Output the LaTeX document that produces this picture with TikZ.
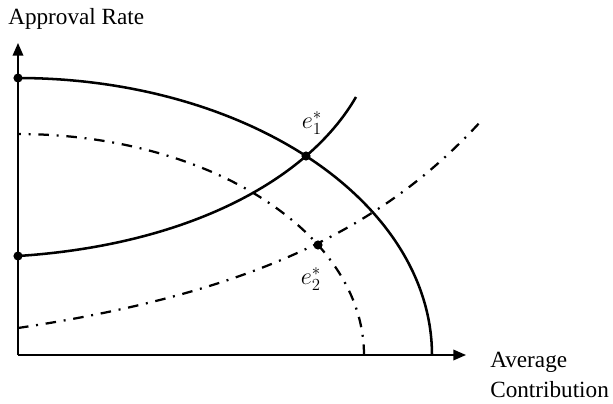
\documentclass[tikz,border=0pt]{standalone}
\usepackage{fontspec}
\setmainfont{Liberation Serif}
\usepackage{tikz}
\usetikzlibrary{arrows.meta,positioning}

\begin{document}
\begin{tikzpicture}[
  x=0.025cm, y=0.025cm,
  every node/.style={font=\fontsize{16.5}{19}\selectfont},
  axis/.style={line width=1.2pt, -{Triangle[length=9pt,width=7.5pt]}},
  curve/.style={line width=1.8pt},
  dashdot/.style={line width=1.6pt, dash pattern=on 7.5pt off 5.5pt on 1.4pt off 5.5pt},
  dot/.style={circle, fill, inner sep=0pt, minimum size=6.5pt},
  lbl/.style={inner sep=0pt}
]
\useasboundingbox (-18,-48) rectangle (595,355);

%% Axes
\coordinate (o) at (0,0);
\coordinate (ytip) at (0,312);
\coordinate (xtip) at (448,0);
\draw[axis] (o) -- (ytip);
\draw[axis] (o) -- (xtip);
\node[lbl, anchor=base west] (ylab) at (-10,330) {Approval Rate};
\node[lbl, anchor=base west] (xlab1) at (472,-12) {Average};
\node[lbl, anchor=base west] (xlab2) at (472,-42) {Contribution};

%% Points
\node[dot] (a1) at (0,277) {};
\node[dot] (a2) at (0,99) {};
\node[dot] (e1) at (288,199) {};
\node[dot] (e2) at (300,110) {};
\node[lbl] (e1lab) at (294,232) {$e_1^{*}$};
\node[lbl] (e2lab) at (293,76) {$e_2^{*}$};
\coordinate (s1) at (338,258);
\coordinate (d0) at (0,27);
\coordinate (d1) at (464,235);

%% Solid curves
\draw[curve] plot[domain=0:90, samples=120] ({414*cos(\x)},{277*sin(\x)});
\draw[curve] (a2.center) .. controls (170,110) and (290,175) .. (s1);

%% Dash-dot curves
\draw[dashdot] plot[domain=0:90, samples=120] ({346*cos(\x)},{221*sin(\x)});
\draw[dashdot] (d0) .. controls (230,61.5) and (364,125) .. (d1);
\end{tikzpicture}
\end{document}
